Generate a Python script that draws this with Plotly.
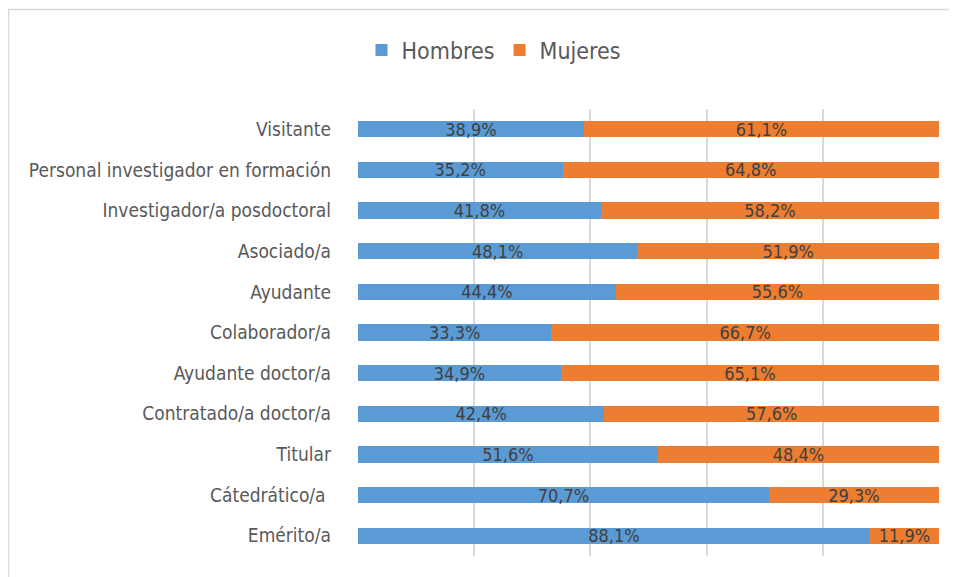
import plotly.graph_objects as go

categories = ["Emérito/a", "Cátedrático/a ", "Titular", "Contratado/a doctor/a",
              "Ayudante doctor/a", "Colaborador/a", "Ayudante", "Asociado/a",
              "Investigador/a posdoctoral", "Personal investigador en formación", "Visitante"]
hombres = [88.1, 70.7, 51.6, 42.4, 34.9, 33.3, 44.4, 48.1, 41.8, 35.2, 38.9]
mujeres = [11.9, 29.3, 48.4, 57.6, 65.1, 66.7, 55.6, 51.9, 58.2, 64.8, 61.1]

FONT = "DejaVu Sans Condensed, Roboto, sans-serif"
# page body has an 8px margin: figure drawn at (8, 8)
OFF = 8
W, H = 957 - OFF, 577 - OFF
L, R, T, B = 358 - OFF, 18, 109 - OFF, 21
pw, ph = W - L - R, H - T - B

fig = go.Figure()
for name, vals, col in [("Hombres", hombres, "#5B9BD5"), ("Mujeres", mujeres, "#ED7D31")]:
    fig.add_trace(go.Bar(
        y=categories, x=vals, name=name, orientation="h",
        marker=dict(color=col, line=dict(width=0)),
        texttemplate="%{x:.1f}%", textposition="inside", insidetextanchor="middle",
        constraintext="none",
        textfont=dict(family=FONT, size=18, color="#404040", weight=300),
    ))

def px_x(x):
    return (x - OFF - L) / pw

def px_y(y):
    return (H - B - (y - OFF)) / ph

fig.update_layout(
    width=W, height=H, barmode="stack", bargap=0.6,
    separators=",.",
    margin=dict(l=L, r=R, t=T, b=B, autoexpand=False),
    paper_bgcolor="white", plot_bgcolor="white",
    font=dict(family=FONT, color="#595959", weight=300),
    legend=dict(orientation="h", x=px_x(494), y=px_y(50), xanchor="center", yanchor="middle",
                font=dict(family=FONT, size=23, color="#595959", weight=300),
                itemwidth=30, traceorder="normal"),
    xaxis=dict(range=[0, 100], dtick=20, showticklabels=False, showgrid=True,
               gridcolor="#D9D9D9", gridwidth=1.5, zeroline=False, showline=False, fixedrange=True),
    yaxis=dict(showgrid=False, showline=False, ticks="", ticklabelstandoff=26, automargin=False,
               tickfont=dict(family=FONT, size=19, color="#595959", weight=300),
               categoryorder="array", categoryarray=categories),
    shapes=[dict(type="rect", xref="paper", yref="paper",
                 x0=px_x(8.5), x1=px_x(1000), y0=px_y(620), y1=px_y(9.5),
                 line=dict(color="#D9D9D9", width=1.5), fillcolor="rgba(0,0,0,0)", layer="below")],
    showlegend=True,
)
fig.write_html("out.html")
